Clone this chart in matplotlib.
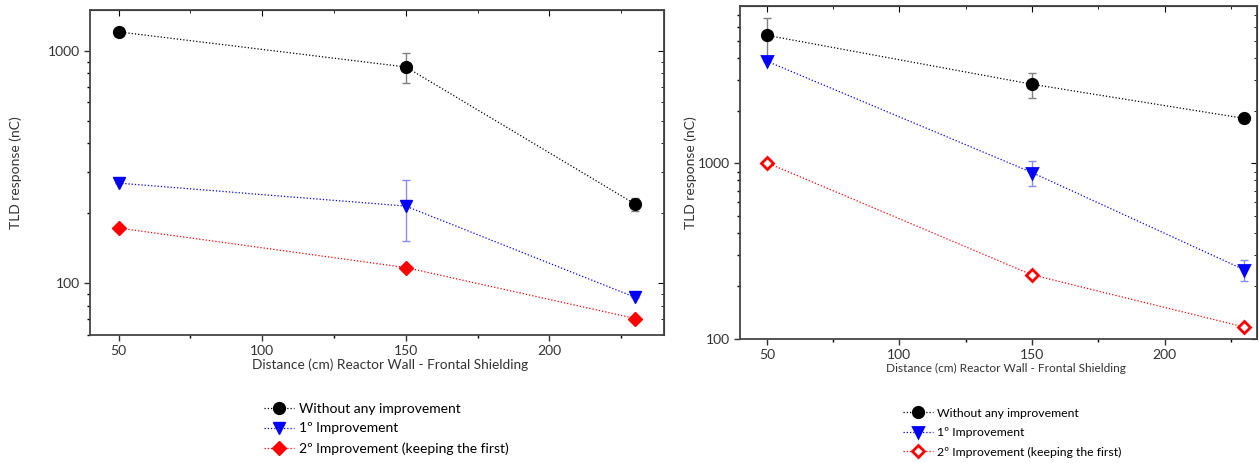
import numpy as np
import matplotlib
matplotlib.use('Agg')
import matplotlib.pyplot as plt
from matplotlib.ticker import LogLocator, NullFormatter, FuncFormatter

plt.rcParams['font.family'] = ['Lato', 'DejaVu Sans']

# Data
distance = [50, 150, 230]
series_names = ['Without any improvement', '1º Improvement', '2º Improvement (keeping the first)']

# left panel
left_none = [1207, 853, 219]
left_none_err = [0, 125, 15]
left_first = [270, 215, 87]
left_first_err = [0, 63, 0]
left_second = [173, 117, 70.6]
left_second_err = [0, 0, 0]

# right panel
right_none = [5380, 2830, 1808]
right_none_err = [1400, 470, 0]
right_first = [3830, 888, 248]
right_first_err = [0, 140, 35]
right_second = [1010, 232, 117]
right_second_err = [0, 0, 0]

colors = ['black', 'blue', 'red']
err_colors = ['#808080', '#8c8cf0', '#f08c8c']
markers = ['o', 'v', 'D']

fig = plt.figure(figsize=(12.59, 4.63), dpi=100)
ax1 = fig.add_axes([0.0715, 0.2765, 0.456, 0.702])
ax2 = fig.add_axes([0.588, 0.268, 0.4107, 0.719])


def draw(ax, values, errors, hollow, xlabel_size):
    handles = []
    for i in range(3):
        mfc = 'white' if (hollow and i == 2) else colors[i]
        ms = 8.5 if i < 2 else 7
        if hollow:
            ms = 7.5 if i < 2 else 6.5
        ax.errorbar(distance, values[i], yerr=errors[i], fmt='none',
                    ecolor=err_colors[i], elinewidth=1, capsize=3, zorder=2)
        h, = ax.plot(distance, values[i], linestyle=(0, (1, 1.6)), linewidth=0.9,
                     color=colors[i], marker=markers[i], markersize=ms,
                     markerfacecolor=mfc, markeredgecolor=colors[i],
                     markeredgewidth=2 if hollow else 1, zorder=3)
        handles.append(h)
    ax.set_yscale('log')
    ax.set_xticks([50, 100, 150, 200])
    ax.set_xticks([75, 125, 175, 225], minor=True)
    ax.xaxis.set_minor_formatter(NullFormatter())
    ax.yaxis.set_minor_locator(LogLocator(base=10, subs=np.arange(2, 10)))
    ax.yaxis.set_minor_formatter(NullFormatter())
    ax.yaxis.set_major_formatter(FuncFormatter(lambda v, p: '%d' % v))
    ax.tick_params(which='major', direction='out', length=4, width=1, labelsize=10, colors='#333333')
    ax.tick_params(which='minor', direction='out', length=2.5, width=1)
    for s in ax.spines.values():
        s.set_linewidth(1.3)
        s.set_color('#444444')
    # mirrored inner ticks on top and right
    top = ax.secondary_xaxis('top')
    top.set_xticks([50, 100, 150, 200])
    top.set_xticks([75, 125, 175, 225], minor=True)
    top.tick_params(which='both', direction='in', labeltop=False, length=4)
    top.tick_params(which='minor', length=2.5)
    right = ax.secondary_yaxis('right')
    right.set_yscale('log')
    right.yaxis.set_minor_locator(LogLocator(base=10, subs=np.arange(2, 10)))
    right.tick_params(which='both', direction='in', labelright=False, length=4)
    right.tick_params(which='minor', length=2.5)
    ax.set_ylabel('TLD response (nC)', fontsize=10, color='#333333')
    ax.set_xlabel('Distance (cm) Reactor Wall - Frontal Shielding', fontsize=xlabel_size,
                  color='#333333', labelpad=1)
    return handles


h1 = draw(ax1, [left_none, left_first, left_second],
          [left_none_err, left_first_err, left_second_err], False, 9.8)
ax1.set_xlim(40, 240)
ax1.set_ylim(60, 1500)
ax1.yaxis.set_label_coords(-0.118, 0.5)
ax1.xaxis.label.set_x(0.523)

h2 = draw(ax2, [right_none, right_first, right_second],
          [right_none_err, right_first_err, right_second_err], True, 8.6)
ax2.set_xlim(40, 235)
ax2.set_ylim(100, 7900)
ax2.yaxis.set_label_coords(-0.083, 0.5)
ax2.xaxis.label.set_x(0.513)

fig.legend(h1, series_names, loc='upper left', bbox_to_anchor=(0.204, 0.145),
           frameon=False, fontsize=10, handlelength=2.2, handletextpad=0.3,
           labelspacing=0.55, borderpad=0)
fig.legend(h2, series_names, loc='upper left', bbox_to_anchor=(0.712, 0.133),
           frameon=False, fontsize=8.8, handlelength=2.5, handletextpad=0.3,
           labelspacing=0.7, borderpad=0)

fig.savefig('out.png', dpi=100)
